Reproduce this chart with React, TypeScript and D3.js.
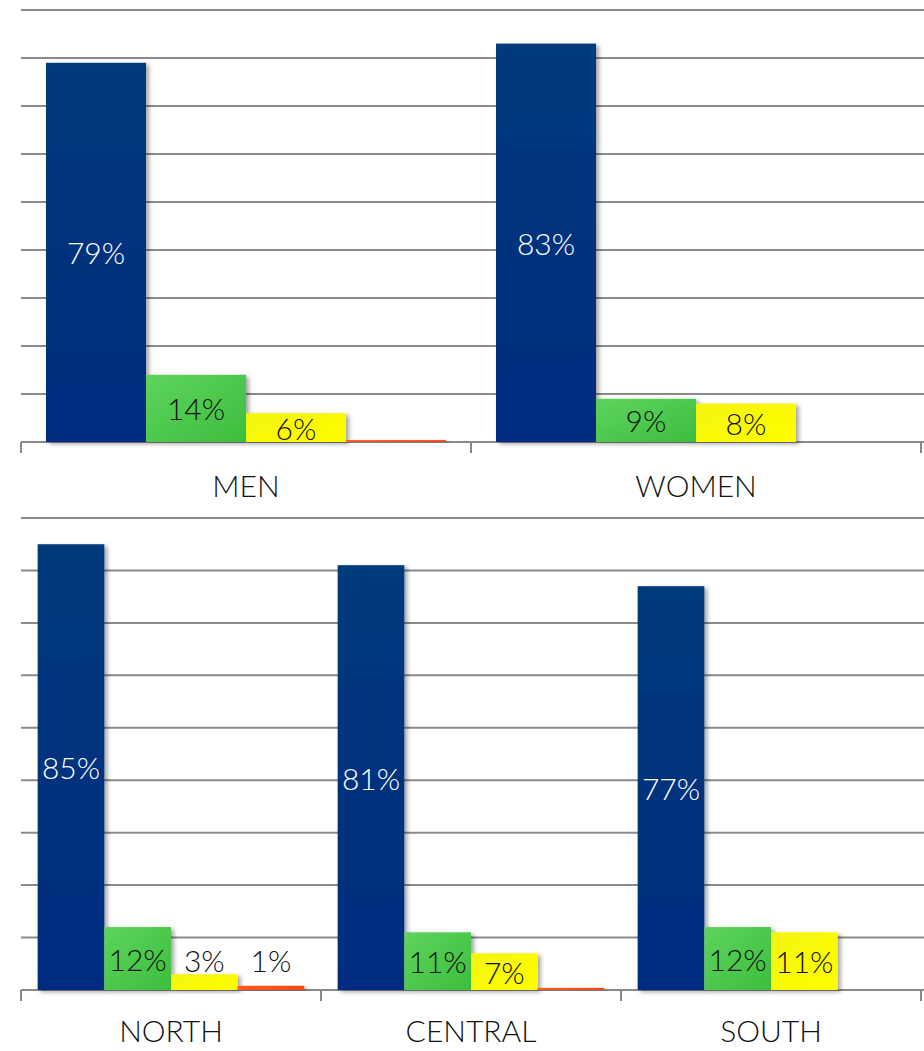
import React from "react";
import * as d3 from "d3";

const seriesKeys = ["s1", "s2", "s3", "s4"];
const seriesColors = ["blue", "green", "yellow", "orange"];

const topCategories = ["MEN", "WOMEN"];
const topS1 = [79, 83];
const topS2 = [14, 9];
const topS3 = [6, 8];
const topS4 = [0.4, 0];
const topLabels = [["79%", "14%", "6%", ""], ["83%", "9%", "8%", ""]];

const bottomCategories = ["NORTH", "CENTRAL", "SOUTH"];
const bottomS1 = [85, 81, 77];
const bottomS2 = [12, 11, 12];
const bottomS3 = [3, 7, 11];
const bottomS4 = [0.8, 0.4, 0];
const bottomLabels = [["85%", "12%", "3%", "1%"], ["81%", "11%", "7%", ""], ["77%", "12%", "11%", ""]];

const yTicks = [0, 10, 20, 30, 40, 50, 60, 70, 80, 90];

const FONT = "Lato, 'Open Sans', sans-serif";

type PanelProps = {
  categories: string[];
  series: number[][];
  labels: string[][];
  y0: number;
  y1: number;
  x0: number;
  x1: number;
  catLabelOffset: number;
};

function Panel({ categories, series, labels, y0, y1, x0, x1, catLabelOffset }: PanelProps) {
  const x = d3.scaleBand<string>().domain(categories).range([x0, x1]).padding(0);
  const xs = d3
    .scaleBand<string>()
    .domain(seriesKeys)
    .range([0, x.bandwidth()])
    .paddingInner(0)
    .paddingOuter(0.25);
  const y = d3.scaleLinear().domain([0, 90]).range([y0, y1]);
  const base = y(0);
  return (
    <g>
      {yTicks.map((t) => (
        <line key={t} x1={x0} x2={924} y1={y(t)} y2={y(t)} stroke="#8a8a8a" strokeWidth={2} />
      ))}
      {[...categories.map((c) => x(c)!), x1].map((tx, i) => (
        <line key={"tk" + i} x1={tx} x2={tx} y1={base} y2={base + 11} stroke="#8a8a8a" strokeWidth={2} />
      ))}
      {categories.map((c, ci) => (
        <g key={c} transform={`translate(${x(c)},0)`}>
          {seriesKeys.map((k, si) => {
            const v = series[si][ci];
            if (v <= 0) return null;
            const top = y(v);
            const h = base - top;
            return (
              <rect
                key={k}
                x={xs(k)}
                y={top}
                width={xs.bandwidth()}
                height={h}
                fill={`url(#grad-${seriesColors[si]})`}
                filter="url(#shadow)"
              />
            );
          })}
          {seriesKeys.map((k, si) => {
            const v = series[si][ci];
            const lab = labels[ci][si];
            if (!lab) return null;
            const top = y(v);
            const h = base - top;
            const cy = h < 20 ? base - 30 : (top + base) / 2;
            return (
              <text
                key={"l" + k}
                x={xs(k)! + xs.bandwidth() / 2}
                y={cy}
                textAnchor="middle"
                dominantBaseline="central"
                fontFamily={FONT}
                fontSize={30}
                fontWeight={300}
                fill={si === 0 ? "#ffffff" : "#111111"}
              >
                {lab}
              </text>
            );
          })}
          <text
            x={x.bandwidth() / 2}
            y={base + catLabelOffset}
            textAnchor="middle"
            dominantBaseline="central"
            fontFamily={FONT}
            fontSize={30}
            fontWeight={300}
            fill="#111111"
          >
            {c}
          </text>
        </g>
      ))}
    </g>
  );
}

export default function App() {
  const topSeries = [topS1, topS2, topS3, topS4];
  const bottomSeries = [bottomS1, bottomS2, bottomS3, bottomS4];
  return (
    <svg
      width={924}
      height={1051}
      style={{ position: "absolute", left: 0, top: 0, background: "#fff" }}
    >
      <defs>
        <linearGradient id="grad-blue" x1="0" y1="0" x2="0" y2="1">
          <stop offset="0" stopColor="#063a7c" />
          <stop offset="1" stopColor="#012c80" />
        </linearGradient>
        <linearGradient id="grad-green" x1="0" y1="0" x2="1" y2="1">
          <stop offset="0" stopColor="#5ed45e" />
          <stop offset="1" stopColor="#3dbd3d" />
        </linearGradient>
        <linearGradient id="grad-yellow" x1="0" y1="0" x2="1" y2="1">
          <stop offset="0" stopColor="#f4f40c" />
          <stop offset="1" stopColor="#ffff00" />
        </linearGradient>
        <linearGradient id="grad-orange" x1="0" y1="0" x2="1" y2="0">
          <stop offset="0" stopColor="#ff5a1c" />
          <stop offset="1" stopColor="#f04818" />
        </linearGradient>
        <filter id="shadow" x="-10%" y="-10%" width="130%" height="130%">
          <feDropShadow dx={3} dy={2} stdDeviation={2} floodColor="#000" floodOpacity={0.35} />
        </filter>
      </defs>
      <Panel
        categories={topCategories}
        series={topSeries}
        labels={topLabels}
        y0={442}
        y1={10}
        x0={21}
        x1={921}
        catLabelOffset={43}
      />
      <Panel
        categories={bottomCategories}
        series={bottomSeries}
        labels={bottomLabels}
        y0={990}
        y1={518}
        x0={21}
        x1={921}
        catLabelOffset={40}
      />
    </svg>
  );
}
